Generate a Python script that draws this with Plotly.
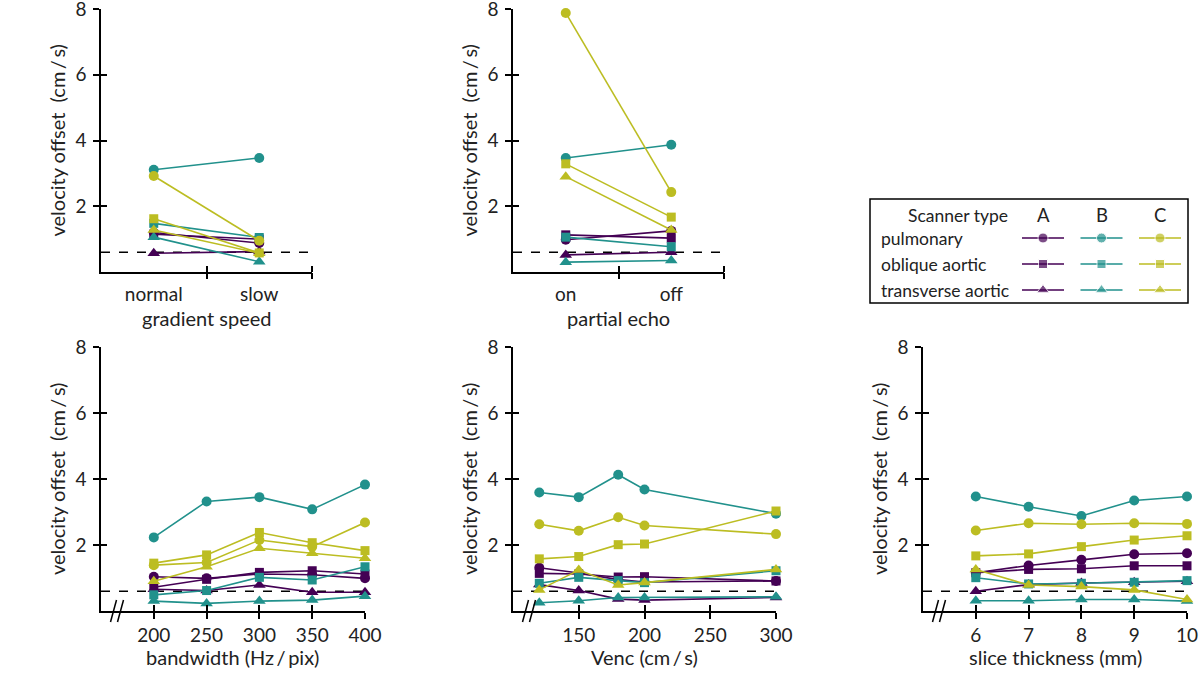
import plotly.graph_objects as go

W, H = 1200, 674
FONT = "Lato"
FS_TICK = 19
FS_TITLE = 20
FS_LEG = 17.5

scanners = ["A", "B", "C"]
vessels = ["pulmonary", "oblique aortic", "transverse aortic"]
colors = {"A": "#440154", "B": "#21918c", "C": "#bcbd22"}
symbols = {"pulmonary": "circle", "oblique aortic": "square", "transverse aortic": "triangle-up"}
msize = {"pulmonary": 10, "oblique aortic": 9, "transverse aortic": 11}
threshold = 0.6
y_label = "velocity offset  (cm\u2009/\u2009s)"

# ---- gradient speed ----
gradient_speed = ["normal", "slow"]
gs_A = [[1.20, 0.88], [1.15, 1.00], [0.57, 0.62]]
gs_B = [[3.11, 3.47], [1.48, 1.05], [1.06, 0.31]]
gs_C = [[2.92, 0.95], [1.62, 0.58], [1.28, 0.57]]

# ---- partial echo ----
partial_echo = ["on", "off"]
pe_A = [[0.98, 1.25], [1.13, 1.03], [0.52, 0.60]]
pe_B = [[3.47, 3.87], [1.06, 0.77], [0.30, 0.35]]
pe_C = [[7.88, 2.43], [3.29, 1.67], [2.90, 1.28]]

# ---- bandwidth ----
bandwidth = [200, 250, 300, 350, 400]
bw_A = [[1.04, 0.99, 1.12, 1.10, 0.99], [0.72, 0.96, 1.17, 1.22, 1.12], [0.66, 0.62, 0.79, 0.57, 0.57]]
bw_B = [[2.23, 3.32, 3.45, 3.08, 3.83], [0.49, 0.62, 1.02, 0.94, 1.34], [0.30, 0.23, 0.30, 0.33, 0.45]]
bw_C = [[1.39, 1.47, 2.15, 1.95, 2.68], [1.45, 1.70, 2.38, 2.07, 1.83], [0.90, 1.34, 1.90, 1.75, 1.60]]

# ---- venc ----
venc = [120, 150, 180, 200, 300]
vc_A = [[1.31, 1.15, 0.95, 0.88, 0.91], [1.14, 1.12, 1.03, 1.04, 0.91], [0.80, 0.62, 0.36, 0.33, 0.41]]
vc_B = [[3.59, 3.45, 4.13, 3.68, 2.95], [0.84, 1.02, 0.92, 0.86, 1.22], [0.25, 0.31, 0.41, 0.41, 0.43]]
vc_C = [[2.63, 2.43, 2.84, 2.59, 2.33], [1.58, 1.65, 2.01, 2.03, 3.03], [0.64, 1.24, 0.79, 0.86, 1.26]]

# ---- slice thickness ----
slice_thickness = [6, 7, 8, 9, 10]
st_A = [[1.16, 1.38, 1.55, 1.72, 1.75], [1.16, 1.26, 1.28, 1.37, 1.37], [0.60, 0.80, 0.85, 0.87, 0.90]]
st_B = [[3.47, 3.16, 2.88, 3.35, 3.47], [1.01, 0.82, 0.84, 0.87, 0.92], [0.31, 0.31, 0.35, 0.35, 0.30]]
st_C = [[2.44, 2.66, 2.63, 2.66, 2.64], [1.67, 1.73, 1.95, 2.15, 2.28], [1.26, 0.79, 0.74, 0.64, 0.35]]

y_ticks = [2, 4, 6, 8]
y_range = [0, 8]


def px(x):
    return x / W


def py(y):
    return 1 - y / H


panels = [
    dict(cats=gradient_speed, data={"A": gs_A, "B": gs_B, "C": gs_C}, title="gradient speed",
         xd=(101, 312), yd=(9, 272), categorical=True),
    dict(cats=partial_echo, data={"A": pe_A, "B": pe_B, "C": pe_C}, title="partial echo",
         xd=(513, 724), yd=(9, 272), categorical=True),
    dict(cats=bandwidth, data={"A": bw_A, "B": bw_B, "C": bw_C}, title="bandwidth (Hz\u2009/\u2009pix)",
         xd=(101, 365), yd=(347, 611), categorical=False, xr=[150, 400], ticks=[200, 250, 300, 350, 400]),
    dict(cats=venc, data={"A": vc_A, "B": vc_B, "C": vc_C}, title="Venc (cm\u2009/\u2009s)",
         xd=(513, 776), yd=(347, 611), categorical=False, xr=[100, 300], ticks=[150, 200, 250, 300]),
    dict(cats=slice_thickness, data={"A": st_A, "B": st_B, "C": st_C}, title="slice thickness (mm)",
         xd=(923, 1187), yd=(347, 611), categorical=False, xr=[5, 10], ticks=[6, 7, 8, 9, 10]),
]

fig = go.Figure()
layout = dict(width=W, height=H, margin=dict(l=0, r=0, t=0, b=0, pad=0, autoexpand=False), autosize=False,
              paper_bgcolor="white", plot_bgcolor="white", showlegend=False,
              font=dict(family=FONT, size=FS_TICK, color="#222222"))
shapes = []
annotations = []
axis_line = dict(showline=True, linecolor="black", linewidth=1.5, showgrid=False, zeroline=False,
                 automargin=False, ticklabeloverflow="allow")
tick_style = dict(ticklen=6, tickwidth=1.5, tickcolor="black")
plain = dict(showgrid=False, zeroline=False, showline=False, automargin=False, showticklabels=False)

for k, p in enumerate(panels, start=1):
    xn = "x" if k == 1 else f"x{k}"
    yn = "y" if k == 1 else f"y{k}"
    xk = "xaxis" if k == 1 else f"xaxis{k}"
    yk = "yaxis" if k == 1 else f"yaxis{k}"
    ox, oy = k + 5, k + 5
    if p["categorical"]:
        xvals = list(range(len(p["cats"])))
        xr = [-0.5, len(p["cats"]) - 0.5]
        major = dict(tickmode="array", tickvals=xvals, ticktext=p["cats"], ticks="", ticklabelstandoff=4,
                     minor=dict(tickvals=[i + 0.5 for i in xvals], ticks="inside", **tick_style))
        over_ticks = [i + 0.5 for i in xvals]
        over_dir = "outside"
    else:
        xvals = p["cats"]
        xr = p["xr"]
        major = dict(tickmode="array", tickvals=p["ticks"], ticks="outside", ticklabelstandoff=0, **tick_style)
        over_ticks = p["ticks"]
        over_dir = "inside"
    layout[xk] = dict(domain=[px(p["xd"][0]), px(p["xd"][1])], anchor=yn, range=xr,
                      tickfont=dict(size=FS_TICK), **axis_line, **major)
    layout[yk] = dict(domain=[py(p["yd"][1]), py(p["yd"][0])], anchor=xn, range=y_range,
                      tickmode="array", tickvals=y_ticks, ticks="outside", tickfont=dict(size=FS_TICK),
                      ticklabelstandoff=3, **tick_style, **axis_line)
    # overlay axes so ticks cross the spines
    layout[f"xaxis{ox}"] = dict(overlaying=xn, anchor=yn, range=xr, tickmode="array",
                                tickvals=over_ticks, ticks=over_dir, **plain, **tick_style)
    layout[f"yaxis{oy}"] = dict(overlaying=yn, anchor=xn, range=y_range, tickmode="array",
                                tickvals=y_ticks, ticks="inside", side="left", **plain, **tick_style)
    fig.add_trace(go.Scatter(x=[], y=[], xaxis=f"x{ox}", yaxis=yn, showlegend=False))
    fig.add_trace(go.Scatter(x=[], y=[], xaxis=xn, yaxis=f"y{oy}", showlegend=False))

    for s in scanners:
        for vi, v in enumerate(vessels):
            fig.add_trace(go.Scatter(
                x=xvals, y=p["data"][s][vi], xaxis=xn, yaxis=yn, mode="lines+markers",
                line=dict(color=colors[s], width=1.6),
                marker=dict(color=colors[s], symbol=symbols[v], size=msize[v]),
                cliponaxis=False, showlegend=False, name=f"{s} {v}"))

    shapes.append(dict(type="line", xref=f"{xn} domain", yref=yn, x0=0, x1=1, y0=threshold, y1=threshold,
                       line=dict(color="black", width=1.5, dash="dash"), layer="below"))
    if not p["categorical"]:
        for off in (12.5, 19.5):
            xc = p["xd"][0] + off
            yc = p["yd"][1]
            shapes.append(dict(type="line", xref="paper", yref="paper",
                               x0=px(xc - 3), x1=px(xc + 3), y0=py(yc + 11), y1=py(yc - 11),
                               line=dict(color="black", width=1.5)))
    annotations.append(dict(text=p["title"], xref=f"{xn} domain", x=0.5, yref="paper",
                            y=py(p["yd"][1] + 46), xanchor="center", yanchor="middle",
                            showarrow=False, font=dict(size=FS_TITLE)))
    annotations.append(dict(text=y_label, xref="paper", x=px(p["xd"][0] - 44),
                            yref=f"{yn} domain", y=0.5, textangle=-90, xanchor="center",
                            yanchor="middle", showarrow=False, font=dict(size=FS_TITLE)))

# ---- legend grid ----
layout["xaxis11"] = dict(domain=[px(1013.75), px(1189.25)], anchor="y11", type="category",
                         categoryorder="array", categoryarray=scanners, range=[-0.5, 2.5],
                         visible=False, automargin=False)
layout["yaxis11"] = dict(domain=[py(303), py(225)], anchor="x11", type="category",
                         categoryorder="array", categoryarray=vessels[::-1], range=[-0.5, 2.5],
                         visible=False, automargin=False)
for s in scanners:
    fig.add_trace(go.Scatter(x=[s] * len(vessels), y=vessels, xaxis="x11", yaxis="y11", mode="markers",
                             marker=dict(symbol="line-ew-open", size=30, color=colors[s],
                                         line=dict(color=colors[s], width=1.6)),
                             cliponaxis=False, showlegend=False, hoverinfo="skip"))
    fig.add_trace(go.Scatter(x=[s] * len(vessels), y=vessels, xaxis="x11", yaxis="y11", mode="markers",
                             marker=dict(symbol=[symbols[v] for v in vessels],
                                         size=[msize[v] for v in vessels], color=colors[s]),
                             cliponaxis=False, showlegend=False))
    annotations.append(dict(text=s, xref="x11", x=s, yref="paper", y=py(215), showarrow=False,
                            xanchor="center", yanchor="middle", font=dict(size=FS_LEG + 1)))
for v in vessels:
    annotations.append(dict(text=v, xref="paper", x=px(879), yref="y11", y=v, showarrow=False,
                            xanchor="left", yanchor="middle", font=dict(size=FS_LEG)))
annotations.append(dict(text="Scanner type", xref="paper", x=px(958), yref="paper", y=py(215),
                        showarrow=False, xanchor="center", yanchor="middle", font=dict(size=FS_LEG)))
shapes.append(dict(type="rect", xref="paper", yref="paper", x0=px(870), x1=px(1188), y0=py(303), y1=py(199),
                   line=dict(color="black", width=1.5)))

layout["shapes"] = shapes
layout["annotations"] = annotations
fig.update_layout(**layout)
fig.write_html("out.html", config={"displayModeBar": False},
               post_script="document.body.style.margin='0px';")
